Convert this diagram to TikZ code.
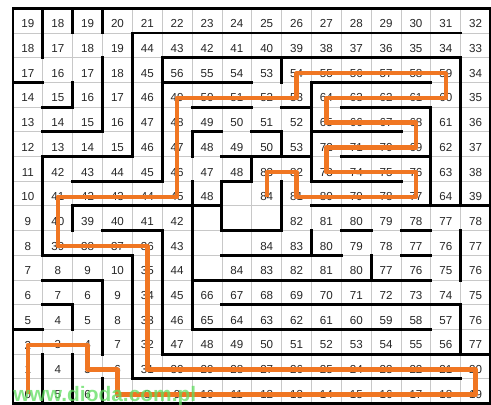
\documentclass[tikz,border=0pt]{standalone}
\usepackage{fontspec}
\setmainfont{Liberation Sans}
\definecolor{arancio}{RGB}{240,118,34}
\definecolor{verdino}{RGB}{95,222,95}
\definecolor{grigiolinea}{RGB}{200,200,200}

\begin{document}
\begin{tikzpicture}[x=0.597cm, y=-0.494cm, font=\fontsize{6.6}{7}\selectfont,
    griglia/.style={grigiolinea, line width=0.5pt},
    muro/.style={line width=1.7pt, line cap=rect},
    cella/.style={inner sep=0pt, text=black!85},
    percorso/.style={arancio, line width=2.5pt, line join=round}]
  \useasboundingbox (-0.4355,-0.336) rectangle (16.013,16.06);
  % griglia sottile (1 unita' = una cella)
  \foreach \i in {1,...,15}{
    \draw[griglia] (\i,0) -- (\i,16);
    \draw[griglia] (0,\i) -- (16,\i);
  }
  % distanze del riempimento (-1 = cella non raggiunta)
  \foreach \riga [count=\r from 0] in {
      {19,18,19,20,21,22,23,24,25,26,27,28,29,30,31,32},
      {18,17,18,19,44,43,42,41,40,39,38,37,36,35,34,33},
      {17,16,17,18,45,56,55,54,53,54,55,56,57,58,59,34},
      {14,15,16,17,46,49,50,51,52,53,64,63,62,61,60,35},
      {13,14,15,16,47,48,49,50,51,52,65,66,67,68,61,36},
      {12,13,14,15,46,47,48,49,50,53,72,71,70,69,62,37},
      {11,42,43,44,45,46,47,48,83,82,73,74,75,76,63,38},
      {10,41,42,43,44,45,48,-1,84,81,80,79,78,77,64,39},
      {9,40,39,40,41,42,-1,-1,-1,82,81,80,79,78,77,78},
      {8,39,38,37,36,43,-1,-1,84,83,80,79,78,77,76,77},
      {7,8,9,10,35,44,-1,84,83,82,81,80,77,76,75,76},
      {6,7,6,9,34,45,66,67,68,69,70,71,72,73,74,75},
      {5,4,5,8,33,46,65,64,63,62,61,60,59,58,57,76},
      {2,3,4,7,32,47,48,49,50,51,52,53,54,55,56,77},
      {1,4,5,6,31,30,29,28,27,26,25,24,23,22,21,20},
      {0,5,6,7,8,9,10,11,12,13,14,15,16,17,18,19}}{
    \foreach \v [count=\c from 0] in \riga {
      \ifnum\v<0 \else
        \node[cella] (n-\r-\c) at (\c+0.5,\r+0.63) {\v};
      \fi
    }
  }
  % muri orizzontali: riga / da colonna / a colonna
  \foreach \r/\a/\b in {1/4/15, 2/5/15, 3/0/1, 3/5/8, 3/10/14, 4/1/2, 4/6/8,
      4/9/10, 4/11/14, 5/1/3, 5/6/7, 5/8/9, 5/10/13, 6/1/4, 6/7/10, 6/11/14,
      7/2/5, 7/7/8, 7/10/13, 8/2/7, 8/10/16, 9/3/5, 9/7/9, 9/11/12, 9/13/14,
      10/1/4, 10/7/11, 10/13/14, 11/1/3, 11/6/14, 12/1/2, 12/7/15, 13/0/1,
      13/6/14, 14/5/16, 15/4/15}{
    \draw[muro] (\a,\r) -- (\b,\r);
  }
  % muri verticali: colonna / da riga / a riga
  \foreach \c/\a/\b in {1/0/2, 2/0/1, 3/0/1, 4/1/6, 3/2/5, 2/3/4, 5/2/7, 9/2/3,
      10/3/7, 15/2/8, 14/4/8, 6/5/6, 9/5/6, 8/6/7, 1/6/10, 6/7/13, 7/7/9,
      9/7/9, 2/8/9, 5/9/14, 10/9/10, 15/9/11, 4/10/15, 12/10/11, 3/11/14,
      2/12/13, 15/12/14, 1/14/16, 2/14/16, 3/15/16}{
    \draw[muro] (\c,\a) -- (\c,\b);
  }
  % bordo esterno
  \draw[muro] (0,0) rectangle (16,16);
  % percorso trovato (da 0 a 84)
  \draw[percorso] (n-15-0.center) -- (n-13-0.center) -- (n-13-2.center)
    -- (n-14-2.center) -- (n-14-3.center) -- (n-15-3.center) -- (n-15-15.center)
    -- (n-14-15.center) -- (n-14-4.center) -- (n-9-4.center) -- (n-9-1.center)
    -- (n-7-1.center) -- (n-7-5.center) -- (n-3-5.center) -- (n-3-9.center)
    -- (n-2-9.center) -- (n-2-14.center) -- (n-3-14.center) -- (n-3-10.center)
    -- (n-4-10.center) -- (n-4-13.center) -- (n-5-13.center) -- (n-5-10.center)
    -- (n-6-10.center) -- (n-6-13.center) -- (n-7-13.center) -- (n-7-9.center)
    -- (n-6-9.center) -- (n-6-8.center) -- (n-7-8.center);
  % filigrana
  \node[anchor=base west, inner sep=0pt, text=verdino, opacity=0.75,
        font=\fontsize{11.9}{12}\selectfont\bfseries] (marchio) at (0,15.92)
       {www.dioda.com.pl};
\end{tikzpicture}
\end{document}
